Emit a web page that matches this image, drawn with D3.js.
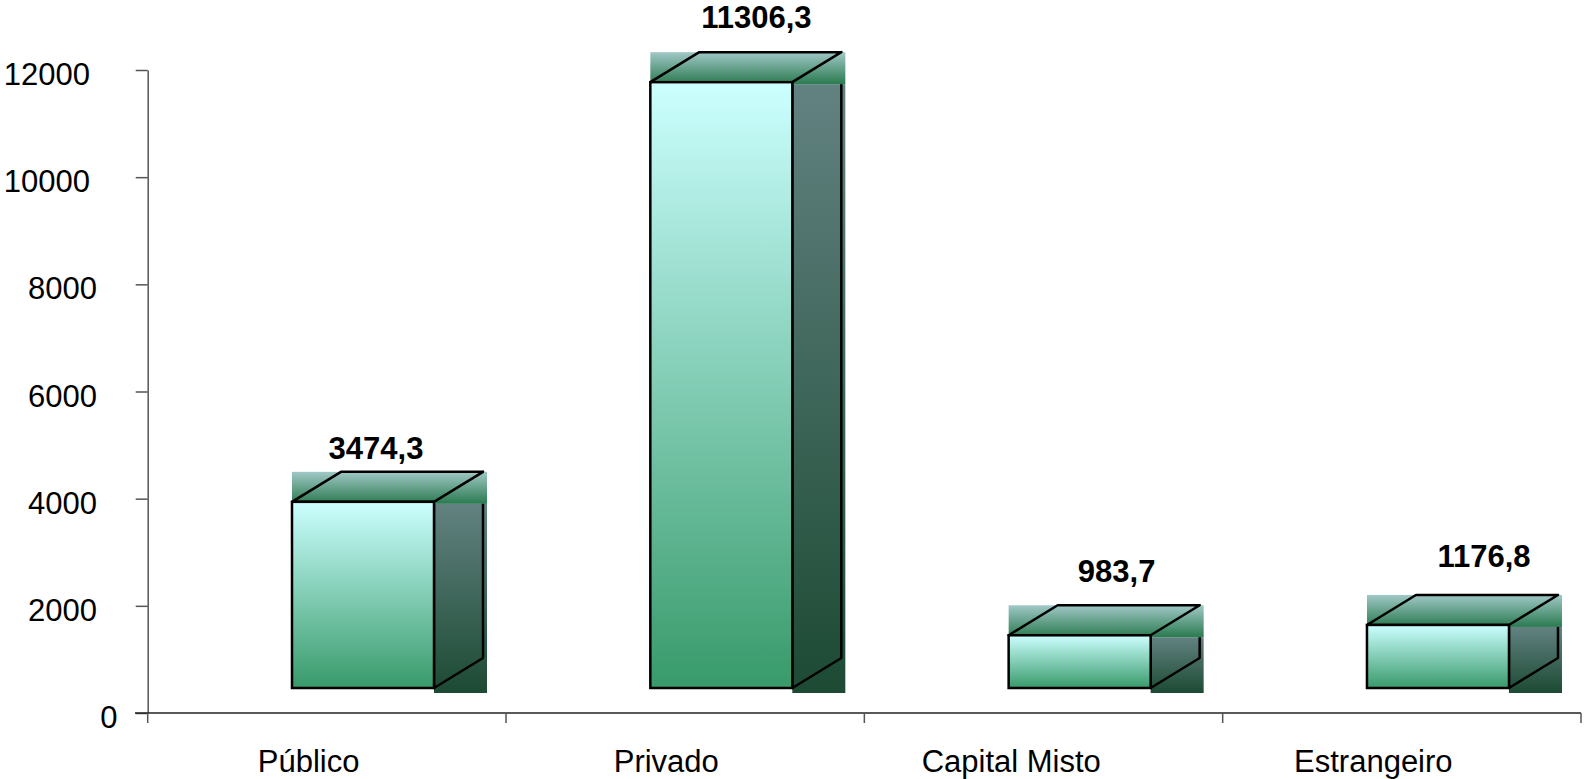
<!DOCTYPE html>
<html>
<head>
<meta charset="utf-8">
<script src="https://cdn.jsdelivr.net/npm/d3@7"></script>
<style>
body { margin: 0; background: #fff; }
text { font-family: Arial, "Liberation Sans", sans-serif; }
</style>
</head>
<body>
<script>
// chart data
var categories = ["Público", "Privado", "Capital Misto", "Estrangeiro"];
var values = [3474.3, 11306.3, 983.7, 1176.8];
var valueLabels = ["3474,3", "11306,3", "983,7", "1176,8"];
var yTicks = [0, 2000, 4000, 6000, 8000, 10000, 12000];

// excel places the 3d labels a bit unevenly, nudge them
var labelShift = [[13, -43], [35, -54], [37, -53], [46, -58]];

var width = 1584, height = 779;
var depthX = 49, depthY = 30, floorLift = 25;

var svg = d3.select("body").append("svg")
    .attr("width", width)
    .attr("height", height);

var y = d3.scaleLinear().domain([0, 12000]).range([713, 70]);
var x = d3.scaleBand().domain(categories).range([147.7, 1581]);

// gradients
var defs = svg.append("defs");
function grad(id, c1, c2) {
  var g = defs.append("linearGradient").attr("id", id)
      .attr("x1", 0).attr("y1", 0).attr("x2", 0).attr("y2", 1);
  g.append("stop").attr("offset", "0%").attr("stop-color", c1);
  g.append("stop").attr("offset", "100%").attr("stop-color", c2);
}
grad("gFront", "#ccffff", "#389a6a");
grad("gTop", "#a0c8c6", "#2a7a50");
grad("gSide", "#628281", "#1c4a33");

// y axis
var yAxis = svg.append("g")
    .attr("transform", "translate(147.7,0)")
    .call(d3.axisLeft(y).tickValues(yTicks).tickSize(12).tickSizeOuter(0).tickFormat(d3.format("d")));
yAxis.select(".domain").attr("stroke", "#555").attr("stroke-width", 1.5);
yAxis.selectAll(".tick line").attr("stroke", "#555").attr("stroke-width", 1.5);
yAxis.selectAll(".tick text")
    .attr("font-size", 31)
    .attr("fill", "#000")
    .attr("text-anchor", "end")
    .attr("dy", null)
    .attr("y", 14.5)
    .each(function() {
      var w = this.getComputedTextLength();
      d3.select(this).attr("x", 124.5 - 0.4 * w - 147.7);
    });

// x axis
var xAxis = svg.append("g")
    .attr("transform", "translate(0,713)")
    .call(d3.axisBottom(x).tickSize(0).tickSizeOuter(0));
xAxis.select(".domain").remove();
xAxis.selectAll(".tick text")
    .attr("font-size", 31)
    .attr("fill", "#000")
    .attr("dy", null)
    .attr("y", 59)
    .attr("text-anchor", "start")
    .each(function() {
      var w = this.getComputedTextLength();
      d3.select(this).attr("x", -0.68 * w);
    });

svg.append("line")
    .attr("x1", 135).attr("x2", 1581)
    .attr("y1", y(0)).attr("y2", y(0))
    .attr("stroke", "#222").attr("stroke-width", 1.5);

var bounds = categories.map(function(c) { return x(c); }).concat([x.range()[1]]);
svg.selectAll(".xtick")
    .data(bounds)
    .enter().append("line")
    .attr("class", "xtick")
    .attr("x1", function(d) { return d; })
    .attr("x2", function(d) { return d; })
    .attr("y1", y(0))
    .attr("y2", y(0) + 10)
    .attr("stroke", "#555").attr("stroke-width", 1.5);

// bars
var bars = categories.map(function(c, i) {
  var fl = x(c) + x.bandwidth() * 0.4027;
  var fw = x.bandwidth() * 0.3963;
  var fb = y(0) - floorLift;
  var ft = fb - (y(0) - y(values[i]));
  return { fl: fl, fw: fw, fb: fb, ft: ft, i: i };
});

var g = svg.selectAll(".bar")
    .data(bars)
    .enter().append("g")
    .attr("class", "bar");

// side
g.append("rect")
    .attr("x", function(d) { return d.fl + d.fw; })
    .attr("y", function(d) { return d.ft + 2; })
    .attr("width", depthX + 4)
    .attr("height", function(d) { return d.fb - d.ft + 3; })
    .attr("fill", "url(#gSide)");
g.append("path")
    .attr("d", function(d) {
      var r = d.fl + d.fw;
      return "M" + r + "," + d.ft + "L" + (r + depthX) + "," + (d.ft - depthY) +
        "L" + (r + depthX) + "," + (d.fb - depthY) + "L" + r + "," + d.fb + "Z";
    })
    .attr("fill", "none").attr("stroke", "#000").attr("stroke-width", 2.5)
    .attr("stroke-linejoin", "round");

// top
g.append("rect")
    .attr("x", function(d) { return d.fl; })
    .attr("y", function(d) { return d.ft - depthY; })
    .attr("width", function(d) { return d.fw + depthX + 4; })
    .attr("height", depthY + 2)
    .attr("fill", "url(#gTop)");
g.append("path")
    .attr("d", function(d) {
      return "M" + d.fl + "," + d.ft + "L" + (d.fl + depthX) + "," + (d.ft - depthY) +
        "L" + (d.fl + d.fw + depthX) + "," + (d.ft - depthY) + "L" + (d.fl + d.fw) + "," + d.ft + "Z";
    })
    .attr("fill", "none").attr("stroke", "#000").attr("stroke-width", 2.5)
    .attr("stroke-linejoin", "round");

// front
g.append("rect")
    .attr("x", function(d) { return d.fl; })
    .attr("y", function(d) { return d.ft; })
    .attr("width", function(d) { return d.fw; })
    .attr("height", function(d) { return d.fb - d.ft; })
    .attr("fill", "url(#gFront)")
    .attr("stroke", "#000").attr("stroke-width", 2.5);

// value labels
g.append("text")
    .text(function(d) { return valueLabels[d.i]; })
    .attr("x", function(d) { return d.fl + d.fw / 2 + labelShift[d.i][0]; })
    .attr("y", function(d) { return d.ft + labelShift[d.i][1]; })
    .attr("text-anchor", "middle")
    .attr("font-size", 31)
    .attr("font-weight", "bold")
    .attr("fill", "#000");
</script>
</body>
</html>
